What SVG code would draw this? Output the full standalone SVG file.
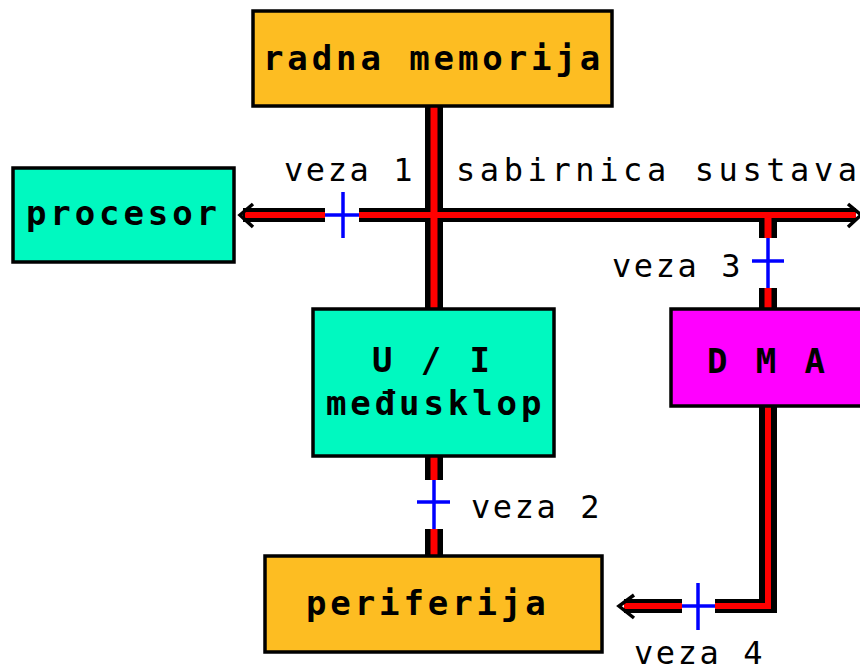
<svg xmlns="http://www.w3.org/2000/svg" width="860" height="671" viewBox="0 0 860 671">
  <style>
    .box { stroke: #000; stroke-width: 3.5; }
    .mem { fill: #FDBD22; }
    .cpu { fill: #00F9C0; }
    .dma { fill: #FF00FF; }
    .lbl { font-family: "DejaVu Sans Mono", "Liberation Mono", monospace; font-weight: bold; font-size: 34px; letter-spacing: 3.9px; fill: #000; }
    .tag { font-family: "DejaVu Sans Mono", "Liberation Mono", monospace; font-size: 32px; letter-spacing: 2.6px; fill: #000; }
    .bkv { stroke: #000; stroke-width: 18; fill: none; }
    .bkh { stroke: #000; stroke-width: 14; fill: none; }
    .rdv { stroke: #FF0000; stroke-width: 7; fill: none; }
    .rdh { stroke: #FF0000; stroke-width: 6; fill: none; }
    .blu { stroke: #0000FF; stroke-width: 3.5; fill: none; }
    .head { stroke: #000; stroke-width: 3.5; fill: none; stroke-linejoin: miter; }
  </style>

  <!-- bus lines: black outline first, red core on top -->
  <g id="connectors">
    <!-- black outlines -->
    <line class="bkv" x1="434" y1="107" x2="434" y2="308"/>
    <line class="bkh" x1="243" y1="215" x2="325" y2="215"/>
    <line class="bkh" x1="359" y1="215" x2="856" y2="215"/>
    <line class="bkv" x1="768" y1="215" x2="768" y2="238"/>
    <line class="bkv" x1="768" y1="288" x2="768" y2="308"/>
    <line class="bkv" x1="434" y1="457" x2="434" y2="480"/>
    <line class="bkv" x1="434" y1="529" x2="434" y2="555"/>
    <rect x="759" y="407" width="18" height="206" fill="#000"/>
    <rect x="715" y="599" width="62" height="14" fill="#000"/>
    <line class="bkh" x1="624" y1="606" x2="682" y2="606"/>

    <!-- red cores -->
    <line class="rdv" x1="434" y1="107" x2="434" y2="308"/>
    <line class="rdh" x1="245" y1="215" x2="325" y2="215"/>
    <line class="rdh" x1="359" y1="215" x2="856" y2="215"/>
    <line class="rdv" x1="768" y1="212" x2="768" y2="238"/>
    <line class="rdv" x1="768" y1="288" x2="768" y2="308"/>
    <line class="rdv" x1="434" y1="457" x2="434" y2="480"/>
    <line class="rdv" x1="434" y1="529" x2="434" y2="555"/>
    <polyline class="rdh" points="768,407 768,606 715,606"/>
    <line class="rdh" x1="624" y1="606" x2="682" y2="606"/>

    <!-- link points (veza 1-4) -->
    <line class="blu" x1="325" y1="215" x2="359" y2="215"/>
    <line class="blu" x1="343" y1="192" x2="343" y2="238"/>
    <line class="blu" x1="768" y1="238" x2="768" y2="288"/>
    <line class="blu" x1="752" y1="261" x2="784" y2="261"/>
    <line class="blu" x1="434" y1="480" x2="434" y2="529"/>
    <line class="blu" x1="417" y1="502" x2="450" y2="502"/>
    <line class="blu" x1="682" y1="606" x2="715" y2="606"/>
    <line class="blu" x1="698" y1="583" x2="698" y2="630"/>

    <!-- arrowheads -->
    <polyline class="head" points="253,204 240,215 253,227"/>
    <polyline class="head" points="848,204 861,215 848,227"/>
    <polyline class="head" points="634,595 619,606 634,618"/>
  </g>

  <g id="radna-memorija">
    <rect class="box mem" x="253" y="11" width="359" height="95"/>
    <text class="lbl" x="263" y="70">radna memorija</text>
  </g>

  <g id="procesor">
    <rect class="box cpu" x="13" y="168" width="221" height="94"/>
    <text class="lbl" x="26" y="225">procesor</text>
  </g>

  <g id="ui-medusklop">
    <rect class="box cpu" x="313" y="309" width="241" height="147"/>
    <text class="lbl" x="372" y="372">U / I</text>
    <text class="lbl" x="326" y="415">međusklop</text>
  </g>

  <g id="dma">
    <rect class="box dma" x="671" y="309" width="200" height="97"/>
    <text class="lbl" x="707" y="373">D M A</text>
  </g>

  <g id="periferija">
    <rect class="box mem" x="265" y="556" width="337" height="96"/>
    <text class="lbl" x="306" y="615">periferija</text>
  </g>

  <g id="labels">
    <text class="tag" x="284" y="181">veza 1</text>
    <text class="tag" x="456" y="181" style="letter-spacing:4.6px">sabirnica sustava</text>
    <text class="tag" x="612" y="277">veza 3</text>
    <text class="tag" x="471" y="518">veza 2</text>
    <text class="tag" x="634" y="664">veza 4</text>
  </g>
</svg>
